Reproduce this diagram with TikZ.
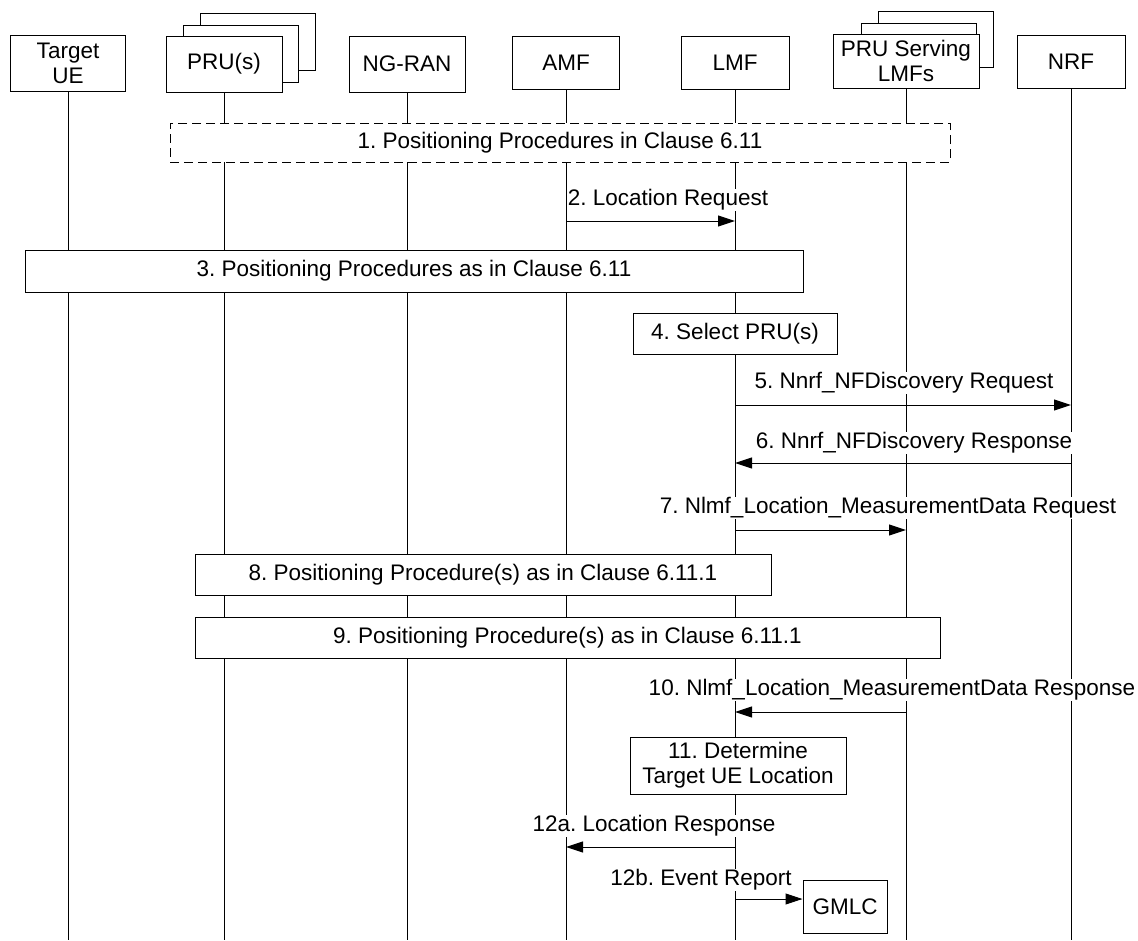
\documentclass[tikz,border=0pt]{standalone}
\usepackage{fontspec}
\setmainfont{Liberation Sans}
\usetikzlibrary{arrows.meta, positioning}
\frenchspacing

\begin{document}
\begin{tikzpicture}[x=1pt, y=-1pt, >={Triangle[length=17pt, width=11pt]},
    every node/.style={font=\fontsize{22.5}{25}\selectfont},
    entity/.style={rectangle, draw, fill=white, line width=1pt, align=center, inner sep=0pt, minimum height=56pt},
    procbox/.style={rectangle, draw, fill=white, line width=1pt, align=center, inner sep=0pt, minimum height=42pt},
    msglabel/.style={fill=white, inner sep=1pt},
    msg/.style={->, line width=1pt},
    lifeline/.style={line width=1pt}]
      \useasboundingbox (0,0) rectangle (1138,940);
      \coordinate (bottom) at (0,940);

      \draw[fill=white, line width=1pt] (200,13) rectangle (315,70);
      \draw[fill=white, line width=1pt] (183,25) rectangle (298,82);
      \draw[fill=white, line width=1pt] (878,11) rectangle (993,67);
      \draw[fill=white, line width=1pt] (861,23) rectangle (976,78);

      \node (ue) [entity, minimum width=115pt] at (68,63) {Target\\UE};
      \node (pru) [entity, minimum width=116pt] at (224,64) {PRU(s)};
      \node (ngran) [entity, minimum width=116pt] at (407,64) {NG-RAN};
      \node (amf) [entity, minimum width=107pt, minimum height=53pt] at (566,62.5) {AMF};
      \node (lmf) [entity, minimum width=108pt, minimum height=53pt] at (735,62.5) {LMF};
      \node (pruslmf) [entity, minimum width=146pt, minimum height=54pt] at (906,61) {PRU Serving\\LMFs};
      \node (nrf) [entity, minimum width=108pt, minimum height=53pt] at (1071,61.5) {NRF};

      \foreach \n in {ue, pru, ngran, amf, lmf, pruslmf, nrf}
        \draw[lifeline] (\n.south) -- (\n.south |- bottom);

      \node (s1) [procbox, dash pattern=on 9pt off 5pt, minimum width=780pt, minimum height=39pt] at (560,142.5) {1. Positioning Procedures in Clause 6.11};

      \node (l2) [msglabel] at (668,200) {2. Location Request};
      \draw[msg] (amf |- 0,221) -- (lmf |- 0,221);

      \node (s3) [procbox, minimum width=778pt] at (414,271) {3. Positioning Procedures as in Clause 6.11};
      \node (s4) [procbox, minimum width=204pt, minimum height=41pt] at (735,334) {4. Select PRU(s)};

      \node (l5) [msglabel] at (904,383) {5. Nnrf\_NFDiscovery Request};
      \draw[msg] (lmf |- 0,405) -- (nrf |- 0,405);
      \node (l6) [msglabel] at (914,443) {6. Nnrf\_NFDiscovery Response};
      \draw[msg] (nrf |- 0,463) -- (lmf |- 0,463);

      \node (l7) [msglabel] at (888,508) {7. Nlmf\_Location\_MeasurementData Request};
      \draw[msg] (lmf |- 0,530) -- (pruslmf |- 0,530);

      \node (s8) [procbox, minimum width=576pt, minimum height=41pt] at (483,575) {8. Positioning Procedure(s) as in Clause 6.11.1};
      \node (s9) [procbox, minimum width=745pt, minimum height=41pt] at (567.5,637.5) {9. Positioning Procedure(s) as in Clause 6.11.1};

      \node (l10) [msglabel] at (892,690) {10. Nlmf\_Location\_MeasurementData Response};
      \draw[msg] (pruslmf |- 0,712) -- (lmf |- 0,712);

      \node (s11) [procbox, minimum width=216pt, minimum height=57pt] at (738,765.5) {11. Determine\\Target UE Location};

      \node (l12a) [msglabel] at (654,826) {12a. Location Response};
      \draw[msg] (lmf |- 0,847) -- (amf |- 0,847);

      \node (gmlc) [procbox, minimum width=84pt, minimum height=53pt] at (845,906.5) {GMLC};
      \node (l12b) [msglabel] at (701,880) {12b. Event Report};
      \draw[msg] (lmf |- 0,899) -- (gmlc.west |- 0,899);
\end{tikzpicture}
\end{document}
